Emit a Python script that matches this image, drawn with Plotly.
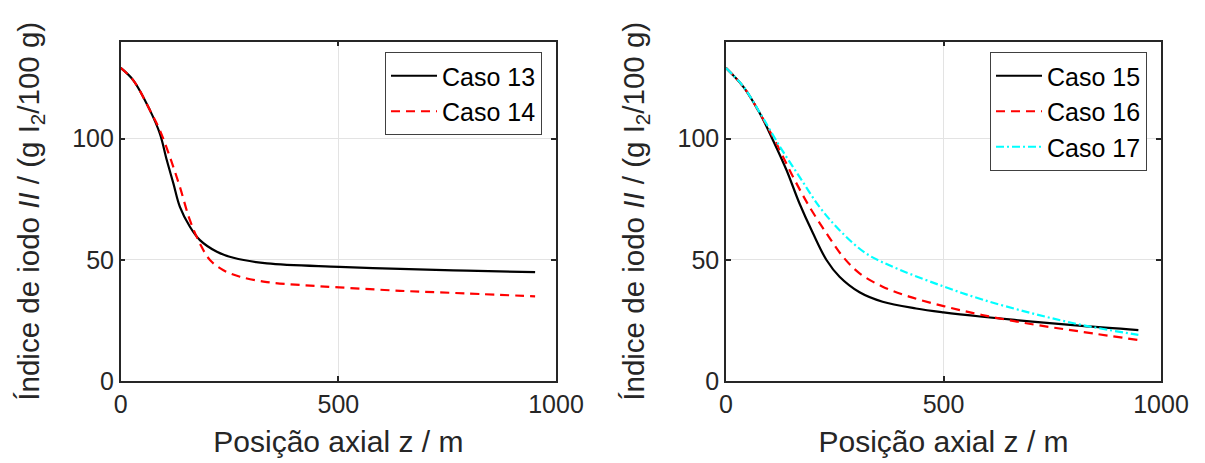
import plotly.graph_objects as go

# ---- data ----
z13 = [0, 29, 67, 90, 106, 121, 136, 159, 182, 221, 259, 336, 502, 642, 795, 952]
ii13 = [129.1, 124, 111.7, 102, 91, 81.5, 71.8, 63.6, 58.1, 53.3, 50.8, 48.5, 47.1, 46.2, 45.5, 44.9]

z14 = [0, 29, 67, 90, 113, 136, 159, 182, 205, 236, 274, 336, 412, 502, 642, 795, 952]
ii14 = [129.1, 124, 111.7, 103.4, 92.4, 80, 66.3, 56.7, 49.9, 45.7, 43, 40.8, 39.6, 38.6, 37.2, 36.1, 34.9]

z15 = [0, 40, 78, 108, 139, 169, 200, 231, 261, 307, 360, 437, 500, 589, 704, 818, 948]
ii15 = [129.1, 121.3, 110.3, 99.3, 87, 73.2, 60.9, 49.9, 43, 36.6, 32.7, 29.9, 28.3, 26.5, 24.5, 22.7, 21]

z16 = [0, 40, 78, 116, 154, 192, 231, 269, 307, 360, 421, 500, 589, 704, 818, 948]
ii16 = [129.1, 121.3, 110.3, 97.9, 84.2, 71.8, 60.9, 51.2, 44.4, 38.9, 34.8, 30.9, 27.2, 23.4, 20.3, 16.9]

z17 = [0, 40, 78, 124, 169, 215, 261, 322, 398, 500, 589, 704, 818, 948]
ii17 = [129.1, 121.4, 110.6, 96.6, 84.2, 71.8, 62.2, 52.6, 46, 39, 33.6, 27.9, 23.1, 19]

x_ticks = [0, 500, 1000]
y_ticks = [0, 50, 100]

x_title = "Posição axial z / m"
y_title = "Índice de iodo <i>II</i> / (g I<sub>2</sub>/100 g)"

FONT = "Liberation Sans, Arial, sans-serif"
AX = "#262626"

fig = go.Figure()
fig.add_trace(go.Scatter(x=z13, y=ii13, name="Caso 13", mode="lines", line=dict(color="black", width=2.2, shape="spline"), xaxis="x", yaxis="y", legend="legend"))
fig.add_trace(go.Scatter(x=z14, y=ii14, name="Caso 14", mode="lines", line=dict(color="red", width=2.2, dash="9px,6px", shape="spline"), xaxis="x", yaxis="y", legend="legend"))
fig.add_trace(go.Scatter(x=z15, y=ii15, name="Caso 15", mode="lines", line=dict(color="black", width=2.2, shape="spline"), xaxis="x2", yaxis="y2", legend="legend2"))
fig.add_trace(go.Scatter(x=z16, y=ii16, name="Caso 16", mode="lines", line=dict(color="red", width=2.2, dash="9px,6px", shape="spline"), xaxis="x2", yaxis="y2", legend="legend2"))
fig.add_trace(go.Scatter(x=z17, y=ii17, name="Caso 17", mode="lines", line=dict(color="cyan", width=2.2, dash="8px,3px,2px,3px", shape="spline"), xaxis="x2", yaxis="y2", legend="legend2"))

W, H = 1205, 463
ydom = [1 - 381 / H, 1 - 41.5 / H]

common_x = dict(range=[0, 1000], tickvals=x_ticks, ticks="inside", ticklen=5, tickwidth=1.5, tickcolor=AX,
                showline=True, linecolor=AX, linewidth=1.5, mirror="ticks", showgrid=True, gridcolor="#e3e3e3",
                zeroline=False, automargin=False, tickfont=dict(size=25, color=AX, family=FONT),
                title=dict(text=x_title, font=dict(size=30, color=AX, family=FONT), standoff=14))
common_y = dict(range=[0, 140], tickvals=y_ticks, ticks="inside", ticklen=5, tickwidth=1.5, tickcolor=AX,
                showline=True, linecolor=AX, linewidth=1.5, mirror="ticks", showgrid=True, gridcolor="#e3e3e3",
                zeroline=False, automargin=False, tickfont=dict(size=25, color=AX, family=FONT),
                title=dict(text=y_title, font=dict(size=29.5, color=AX, family=FONT), standoff=24))

leg_common = dict(xanchor="right", yanchor="top", bgcolor="white", bordercolor="#404040", borderwidth=1,
                  font=dict(size=25, color="black", family=FONT), tracegroupgap=0, itemwidth=46)

fig.update_layout(
    width=W, height=H,
    margin=dict(l=0, r=0, t=0, b=0, autoexpand=False),
    paper_bgcolor="white", plot_bgcolor="white",
    font=dict(family=FONT),
    xaxis=dict(domain=[120.7 / W, 556 / W], anchor="y", **common_x),
    yaxis=dict(domain=ydom, anchor="x", **common_y),
    xaxis2=dict(domain=[726 / W, 1161 / W], anchor="y2", **common_x),
    yaxis2=dict(domain=ydom, anchor="x2", **common_y),
    legend=dict(x=542 / W, y=1 - 52 / H, **leg_common),
    legend2=dict(x=1147 / W, y=1 - 52 / H, **leg_common),
)

fig.write_html("out.html")
